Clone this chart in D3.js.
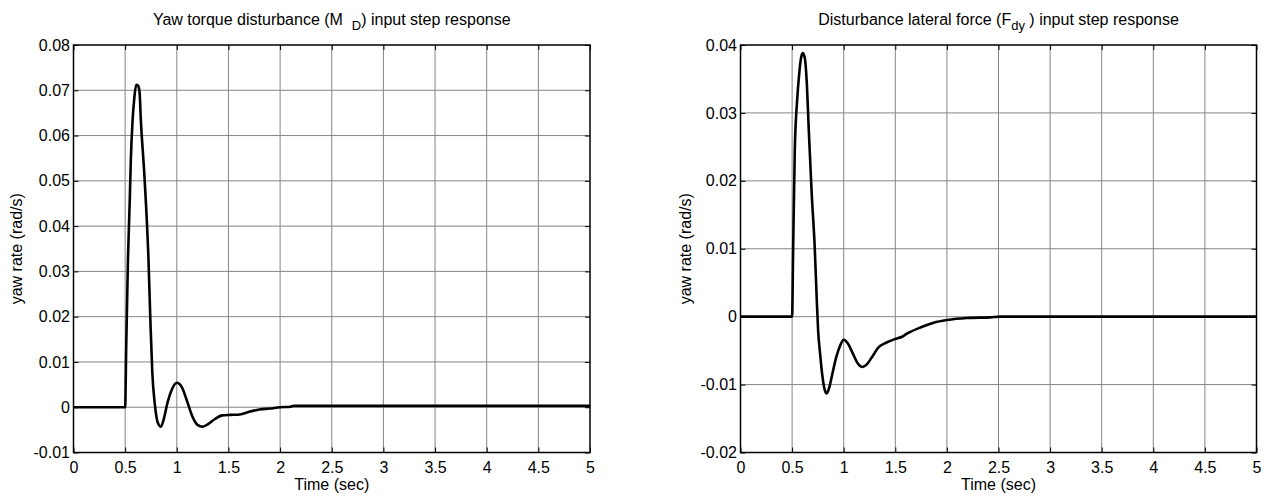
<!DOCTYPE html>
<html>
<head>
<meta charset="utf-8">
<script src="https://cdn.jsdelivr.net/npm/d3@7"></script>
<style>
  body { margin: 0; background: #fff; }
  svg text { font-family: "Liberation Sans", Arial, Helvetica, sans-serif; fill: #000; }
</style>
</head>
<body>
<div id="chart"></div>
<script>
// step responses (time in sec, yaw rate in rad/s)
var xTicks = [0, 0.5, 1, 1.5, 2, 2.5, 3, 3.5, 4, 4.5, 5];

var torqueTicks = [-0.01, 0, 0.01, 0.02, 0.03, 0.04, 0.05, 0.06, 0.07, 0.08];
var torqueTitle = ["Yaw torque disturbance (M  ", "D", ") input step response"];
var torqueTime = [0, 0.5, 0.51, 0.527, 0.545, 0.555, 0.571, 0.59, 0.607, 0.625, 0.639, 0.652,
    0.687, 0.726, 0.745, 0.763, 0.788, 0.817, 0.847, 0.875, 0.91, 0.95, 1.0, 1.05, 1.1,
    1.15, 1.2, 1.25, 1.31, 1.37, 1.44, 1.52, 1.61, 1.7, 1.8, 1.9, 2.0, 2.1, 2.13, 5];
var torqueRate = [0, 0, 0.013, 0.0325, 0.046, 0.0546, 0.063, 0.0686, 0.0712, 0.071, 0.0697, 0.0634,
    0.0509, 0.0325, 0.0186, 0.0076, 0.0005, -0.0035, -0.0043, -0.0025, 0.001, 0.0038, 0.0054, 0.0044, 0.0013,
    -0.002, -0.0039, -0.0043, -0.0036, -0.0026, -0.0018, -0.0017, -0.0016, -0.001, -0.0005, -0.0003, 0, 0.0001, 0.0003, 0.0003];

var forceTicks = [-0.02, -0.01, 0, 0.01, 0.02, 0.03, 0.04];
var forceTitle = ["Disturbance lateral force (F", "dy", " ) input step response"];
var forceTime = [0, 0.5, 0.51, 0.526, 0.549, 0.569, 0.588, 0.605, 0.624, 0.641, 0.663, 0.69,
    0.719, 0.739, 0.752, 0.771, 0.794, 0.817, 0.837, 0.859, 0.892, 0.925, 0.967, 1.0, 1.039,
    1.088, 1.137, 1.18, 1.219, 1.268, 1.333, 1.415, 1.497, 1.56, 1.613, 1.742, 1.871, 2.0, 2.194, 2.42, 2.52, 5];
var forceRate = [0, 0, 0.0098, 0.0245, 0.0319, 0.0358, 0.0382, 0.0388, 0.038, 0.0348, 0.027, 0.0181,
    0.0103, 0.0025, -0.002, -0.0054, -0.0088, -0.0108, -0.0113, -0.0105, -0.0083, -0.0061, -0.0042, -0.0034, -0.0039,
    -0.0054, -0.0069, -0.0074, -0.0071, -0.0061, -0.0046, -0.0038, -0.0033, -0.003, -0.0025, -0.0016, -0.0009, -0.0005, -0.0002, -0.0001, 0, 0];

var svg = d3.select("#chart").append("svg")
    .attr("width", 1270)
    .attr("height", 498);

svg.append("rect")
    .attr("width", 1270)
    .attr("height", 498)
    .attr("fill", "#fff");

function fmt(d) {
    return String(+d.toFixed(2));
}

function drawPanel(opts) {
    var width = opts.right - opts.left,
        height = 407.5;

    var g = svg.append("g")
        .attr("transform", "translate(" + opts.left + "," + 45 + ")");

    var x = d3.scaleLinear().domain([0, 5]).range([0, width]);
    var y = d3.scaleLinear().domain(d3.extent(opts.yTicks)).range([height, 0]);

    // grid
    g.append("g").selectAll("line")
        .data(xTicks.slice(1, -1))
        .enter().append("line")
        .attr("x1", function(d) { return x(d); })
        .attr("x2", function(d) { return x(d); })
        .attr("y1", 0)
        .attr("y2", height)
        .attr("stroke", "#858585")
        .attr("stroke-width", 1);

    g.append("g").selectAll("line")
        .data(opts.yTicks.slice(1, -1))
        .enter().append("line")
        .attr("x1", 0)
        .attr("x2", width)
        .attr("y1", function(d) { return y(d); })
        .attr("y2", function(d) { return y(d); })
        .attr("stroke", "#858585")
        .attr("stroke-width", 1);

    // axes with inward ticks
    var xAxis = d3.axisBottom(x).tickValues(xTicks).tickFormat(fmt).tickSize(-5).tickPadding(9);
    var yAxis = d3.axisLeft(y).tickValues(opts.yTicks).tickFormat(fmt).tickSize(-5).tickPadding(3.5);

    g.append("g")
        .attr("transform", "translate(0," + height + ")")
        .call(xAxis);
    g.append("g").call(yAxis);

    g.append("g").call(d3.axisTop(x).tickValues(xTicks).tickFormat("").tickSize(-5));
    g.append("g").attr("transform", "translate(" + width + ",0)")
        .call(d3.axisRight(y).tickValues(opts.yTicks).tickFormat("").tickSize(-5));

    g.selectAll(".domain").remove();
    g.selectAll(".tick line").attr("stroke", "#000");
    g.selectAll(".tick text").style("font-size", "16px");

    // response curve
    var pts = opts.time.map(function(t, i) { return [t, opts.rate[i]]; });
    var line = d3.line()
        .x(function(d) { return x(d[0]); })
        .y(function(d) { return y(d[1]); })
        .curve(d3.curveMonotoneX);

    g.append("path")
        .datum(pts)
        .attr("d", line)
        .attr("fill", "none")
        .attr("stroke", "#000")
        .attr("stroke-width", 2.6)
        .attr("stroke-linejoin", "round");

    // box
    g.append("rect")
        .attr("width", width)
        .attr("height", height)
        .attr("fill", "none")
        .attr("stroke", "#000")
        .attr("stroke-width", 1.5);

    // title with subscript
    var title = g.append("text")
        .attr("x", width / 2)
        .attr("y", -20)
        .attr("text-anchor", "middle")
        .attr("xml:space", "preserve")
        .style("white-space", "pre")
        .style("font-size", "16px");
    title.append("tspan").text(opts.title[0]);
    title.append("tspan").attr("dy", 5).style("font-size", "13px").text(opts.title[1]);
    title.append("tspan").attr("dy", -5).text(opts.title[2]);

    g.append("text")
        .attr("x", width / 2)
        .attr("y", height + 37)
        .attr("text-anchor", "middle")
        .style("font-size", "16px")
        .text("Time (sec)");

    g.append("text")
        .attr("transform", "translate(" + opts.ylabelX + "," + (height / 2) + ")rotate(-90)")
        .attr("text-anchor", "middle")
        .style("font-size", "16px")
        .text("yaw rate (rad/s)");
}

drawPanel({left: 73.5, right: 590, yTicks: torqueTicks, time: torqueTime, rate: torqueRate,
    title: torqueTitle, ylabelX: -52});
drawPanel({left: 740.5, right: 1256.5, yTicks: forceTicks, time: forceTime, rate: forceRate,
    title: forceTitle, ylabelX: -50});
</script>
</body>
</html>
